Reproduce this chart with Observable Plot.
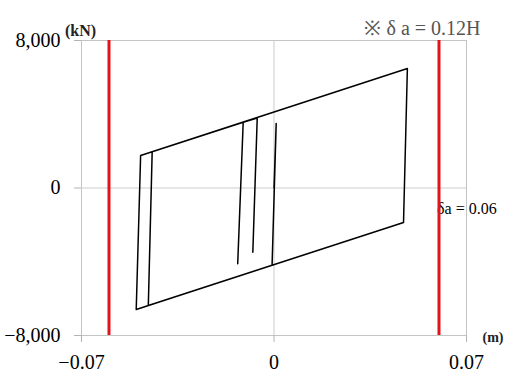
<!DOCTYPE html>
<html>
<head>
<meta charset="utf-8">
<script src="https://cdn.jsdelivr.net/npm/d3@7"></script>
<script src="https://cdn.jsdelivr.net/npm/@observablehq/plot@0.6"></script>
<style>
  html, body { margin: 0; padding: 0; background: #fff; }
</style>
</head>
<body>
<div id="chart"></div>
<script>
// Hysteresis path: displacement (m) and shear force (kN)
const dispM = [0, 0.0008, -0.0007, -0.0501, -0.0485, 0.0485, 0.0471, -0.0457, -0.0443, -0.0112, -0.0132, -0.0112, -0.0061, -0.0077];
const forceKN = [0, 3500, -4190, -6590, 1760, 6480, -1870, -6370, 1960, 3570, -4110, 3570, 3800, -3480];
const limitLines = [-0.06, 0.06];
const xTicks = [-0.07, 0, 0.07];
const yTicks = [-8000, 0, 8000];
const yUnit = ["(kN)"];
const xUnit = ["(m)"];
const noteLabel = ["※ δ a = 0.12H"];
const limitLabel = ["δa = 0.06"];

const data = dispM.map((x, i) => ({x, y: forceKN[i]}));
const serif = "'Liberation Serif', 'Times New Roman', serif";

const chart = Plot.plot({
  width: 507,
  height: 374,
  marginLeft: 81,
  marginRight: 41,
  marginTop: 40,
  marginBottom: 39,
  style: {fontFamily: serif, color: "black", background: "white"},
  x: {domain: [-0.07, 0.07]},
  y: {domain: [-8000, 8000]},
  marks: [
    Plot.frame({stroke: "#c4c4c4"}),
    Plot.ruleX([0], {stroke: "#cccccc"}),
    Plot.ruleY([0], {stroke: "#cccccc"}),
    Plot.axisY({ticks: yTicks, tickFormat: d3.format(","), tickSize: 7, tickPadding: 14, fontSize: 20, stroke: "#b4b4b4", label: null}),
    Plot.axisX({ticks: xTicks, tickFormat: d3.format(""), tickSize: 7, tickPadding: 12, fontSize: 20, stroke: "#b4b4b4", label: null}),
    Plot.line(data, {x: "x", y: "y", stroke: "black", strokeWidth: 1.5}),
    Plot.text(limitLabel, {x: limitLines[1], y: 0, text: d => d, textAnchor: "start", dx: -2, dy: 21, fontSize: 16, fill: "black"}),
    Plot.ruleX(limitLines, {stroke: "#e0141c", strokeWidth: 3}),
    Plot.text(yUnit, {frameAnchor: "top-left", text: d => d, textAnchor: "middle", dx: -1, dy: -16, fontSize: 16, fontWeight: "bold", fill: "#222"}),
    Plot.text(xUnit, {frameAnchor: "bottom-right", text: d => d, textAnchor: "start", dx: 16, dy: 6, fontSize: 14, fontWeight: "bold", fill: "#222"}),
    Plot.text(noteLabel, {frameAnchor: "top-right", text: d => d, textAnchor: "end", dx: 14, dy: -20, fontSize: 20, fill: "#555"})
  ]
});
document.getElementById("chart").appendChild(chart);
</script>
</body>
</html>
